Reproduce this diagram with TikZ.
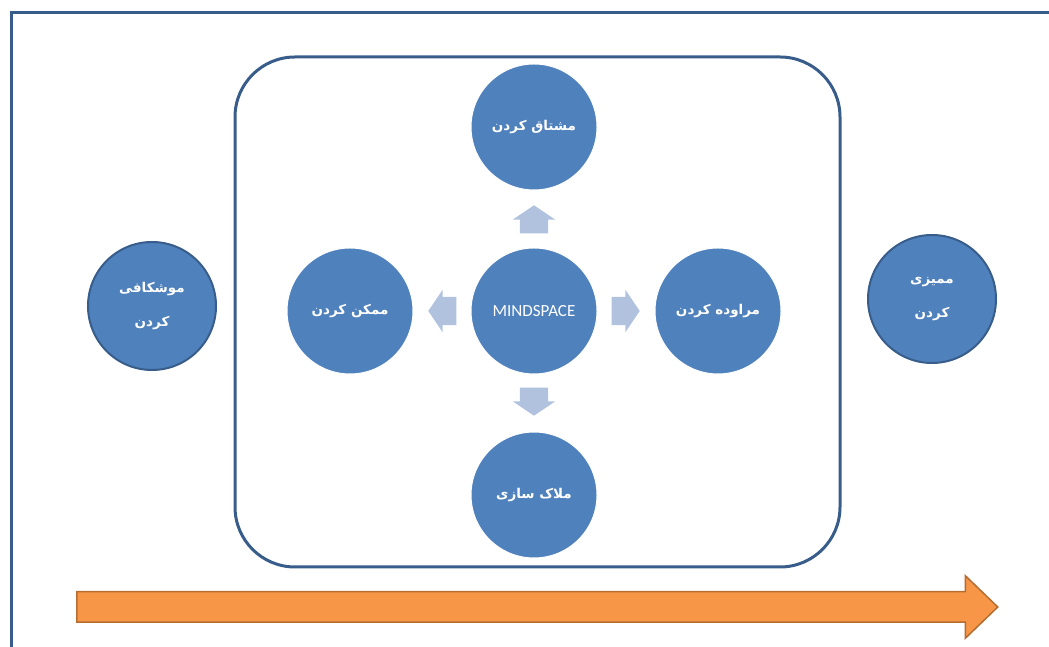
\documentclass[tikz,border=0pt]{standalone}
\usepackage{fontspec}
\usetikzlibrary{positioning,calc,shapes.arrows}
\TeXXeTstate=1
\newfontfamily\arabicfont[Script=Arabic]{DejaVu Sans}
\newfontfamily\latinfont{Carlito}
\definecolor{stageblue}{HTML}{4F81BD}
\definecolor{edgeblue}{HTML}{385D8A}
\definecolor{paleblue}{HTML}{B0C2DE}
\definecolor{flowfill}{HTML}{F79646}
\definecolor{flowedge}{HTML}{B66D31}
\tikzstyle{stage} = [circle, fill=stageblue, draw=white, line width=1pt, minimum size=126pt, inner sep=0pt, text=white, font=\arabicfont\bfseries\fontsize{13.5}{15}\selectfont]
\tikzstyle{side} = [stage, draw=edgeblue, line width=2pt, minimum size=128pt, align=center, font=\arabicfont\bfseries\fontsize{13.5}{34}\selectfont]
\tikzstyle{core} = [stage, font=\latinfont\fontsize{17}{20}\selectfont]
\tikzstyle{push} = [single arrow, fill=paleblue, anchor=tail, minimum height=28pt, minimum width=42pt, single arrow head extend=7pt, single arrow tip angle=112, inner xsep=0pt, inner ysep=14pt]
\tikzstyle{flow} = [single arrow, fill=flowfill, draw=flowedge, anchor=tail, line width=1.5pt, minimum height=921pt, minimum width=62pt, single arrow head extend=16pt, single arrow tip angle=88, inner xsep=0pt, inner ysep=14.5pt]
\tikzstyle{frame} = [draw=edgeblue, line width=3pt]

\begin{document}
\begin{tikzpicture}[x=1pt, y=1pt, node distance=57pt]
\useasboundingbox (0,0) rectangle (1049,647);

\draw [frame] (11,0) |- (1049,634);
\node (space) [frame, rounded corners=60pt, minimum width=605pt, minimum height=510pt] at (537.5,335) {};

\node (core) [core] at (534,336) {MINDSPACE};
\node (mushtaq) [stage, above=of core] {\beginR مشتاق کردن\endR};
\node (melak) [stage, below=of core] {\beginR ملاک سازی\endR};
\node (momken) [stage, left=of core] {\beginR ممکن کردن\endR};
\node (moraveh) [stage, right=of core] {\beginR مراوده کردن\endR};

\node (mushkafi) [side] at (152,341) {\beginR موشکافی\endR\\\beginR کردن\endR};
\node (momayezi) [side] at (932,348) {\beginR ممیزی\endR\\\beginR کردن\endR};

\node (uparr) [push, rotate=90] at ($(core.north)!14pt!(mushtaq.south)$) {};
\node (downarr) [push, rotate=-90] at ($(core.south)!13pt!(melak.north)$) {};
\node (leftarr) [push, rotate=180] at ($(core.west)!14pt!(momken.east)$) {};
\node (rightarr) [push] at ($(core.east)!14pt!(moraveh.west)$) {};

\node (timeline) [flow] at (76,40) {};

\end{tikzpicture}
\end{document}
